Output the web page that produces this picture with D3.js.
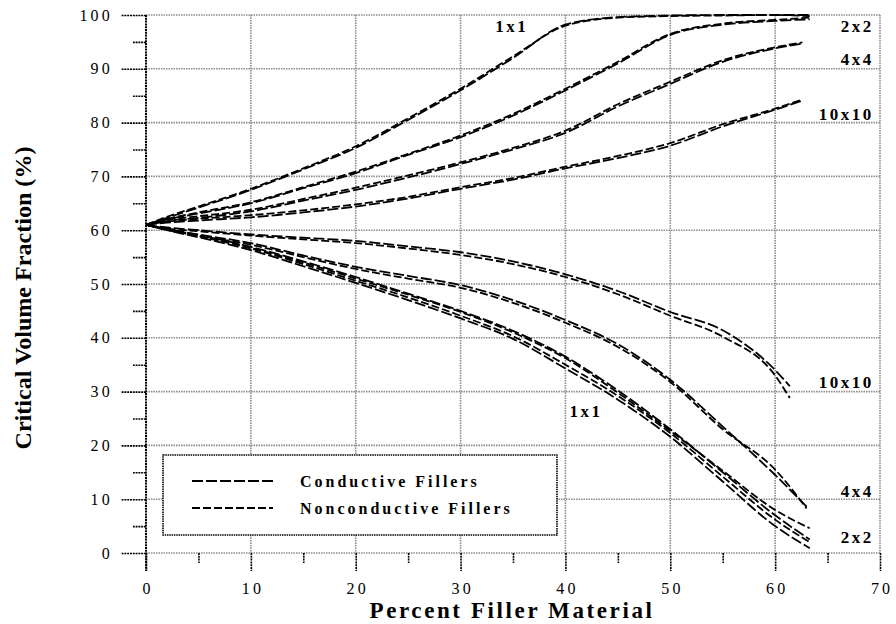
<!DOCTYPE html>
<html>
<head>
<meta charset="utf-8">
<script src="https://cdn.jsdelivr.net/npm/d3@7"></script>
<style>
  body { margin: 0; background: #fff; }
  text { font-family: "Liberation Serif", "Times New Roman", serif; fill: #000; }
</style>
</head>
<body>
<div id="chart"></div>
<script>
// percent filler grid (last point of each curve is at its own end value)
var pctGrid = [0, 2, 5, 10, 15, 20, 25, 30, 35, 40, 45, 50, 55, 60];

// curve names, end points, and values (conductive / nonconductive)
var curveNames = ["1x1", "2x2", "4x4", "10x10", "10x10", "4x4", "2x2", "1x1"];
var curveEnd = [63.3, 63.3, 62.6, 62.6, 61.4, 63, 63.3, 63.3];

var conductive = [
  [61, 62.3, 64.2, 67.5, 71.3, 75.3, 80.5, 86, 92, 98.2, 99.6, 99.9, 100, 100, 100],
  [61, 62, 63.1, 65, 67.8, 70.6, 74, 77.3, 81.3, 86, 91, 96.3, 98.2, 98.9, 99.2],
  [61, 61.7, 62.3, 63.5, 65.5, 67.5, 69.8, 72.3, 75, 78.1, 83, 87.2, 91.3, 93.8, 94.7],
  [61, 61.4, 61.8, 62.4, 63.3, 64.4, 65.9, 67.7, 69.4, 71.5, 73.4, 75.7, 79.3, 82.4, 84.1],
  [61, 60.5, 60, 59.2, 58.6, 58, 57, 55.9, 54.2, 51.8, 48.7, 44.8, 41.4, 34, 31],
  [61, 60.2, 59.2, 57.6, 55.3, 53.2, 51.5, 49.8, 47, 43.3, 38.8, 32.2, 23.5, 14.5, 8.6],
  [61, 60.2, 59.1, 56.9, 54.2, 51.3, 48.2, 45, 41.3, 36.5, 30.2, 23, 15, 7, 2.5],
  [61, 60, 58.7, 56.3, 53.3, 50.2, 47, 43.6, 39.8, 34.3, 28.5, 21.6, 13.3, 5, 0.9]
];
var nonconductive = [
  [61, 62.5, 64.4, 67.7, 71.5, 75.6, 80.8, 86.3, 92.3, 98, 99.5, 99.8, 99.9, 100, 99.8],
  [61, 62.1, 63.3, 65.2, 68, 70.9, 74.2, 77.6, 81.6, 86.3, 91.3, 96.5, 98.4, 99.1, 99.5],
  [61, 61.9, 62.6, 63.8, 65.8, 67.9, 70.2, 72.6, 75.3, 78.5, 83.4, 87.6, 91.6, 94, 94.9],
  [61, 61.6, 62.1, 62.8, 63.7, 64.8, 66.2, 68, 69.7, 71.8, 73.8, 76.2, 79.7, 82.6, 84.3],
  [61, 60.3, 59.8, 59, 58.3, 57.6, 56.6, 55.4, 53.7, 51.3, 48.1, 44.1, 40.2, 33, 28.8],
  [61, 60.1, 59, 57.3, 55, 52.8, 51, 49.3, 46.5, 42.8, 38.3, 31.8, 23, 15.5, 8.3],
  [61, 60.1, 59, 56.7, 54, 51, 48, 44.8, 41, 36.2, 29.8, 22.7, 15.3, 8, 4.6],
  [61, 60.1, 58.9, 56.6, 53.7, 50.6, 47.5, 44.1, 40.3, 35, 29.2, 22.3, 14.2, 6.2, 2]
];

// curve label positions (data coords)
var labelX = [33.3, 69.4, 69.4, 69.4, 69.4, 69.4, 69.4, 40.4];
var labelY = [96.8, 96.8, 90.7, 80.5, 30.7, 10.4, 1.9, 25.3];

var xMajor = [0, 10, 20, 30, 40, 50, 60, 70];
var xMinor = [5, 15, 25, 35, 45, 55, 65];
var yMajor = [0, 10, 20, 30, 40, 50, 60, 70, 80, 90, 100];
var yMinor = [5, 15, 25, 35, 45, 55, 65, 75, 85, 95];

var legendLabels = ["Conductive Fillers", "Nonconductive Fillers"];

var width = 896, height = 624;
var plotLeft = 146, plotRight = 880, plotTop = 15, plotBottom = 553;

var svg = d3.select("#chart")
  .append("svg")
    .attr("width", width)
    .attr("height", height);

var x = d3.scaleLinear().domain([0, 70]).range([plotLeft, plotRight]);
var y = d3.scaleLinear().domain([0, 100]).range([plotBottom, plotTop]);

// grid
svg.append("g")
  .selectAll("line")
  .data(xMajor.slice(1))
  .enter()
  .append("line")
    .attr("x1", d => x(d)).attr("x2", d => x(d))
    .attr("y1", plotTop).attr("y2", plotBottom)
    .attr("stroke", "#8c8c8c")
    .attr("stroke-width", 1.6)
    .attr("stroke-dasharray", "1.5,1");

svg.append("g")
  .selectAll("line")
  .data(yMajor)
  .enter()
  .append("line")
    .attr("x1", plotLeft).attr("x2", plotRight)
    .attr("y1", d => y(d)).attr("y2", d => y(d))
    .attr("stroke", "#8c8c8c")
    .attr("stroke-width", 1.6)
    .attr("stroke-dasharray", "1.5,1");

// y axis
var yAxis = svg.append("g")
  .attr("transform", "translate(" + plotLeft + ",0)")
  .call(d3.axisLeft(y).tickValues(yMajor).tickSize(25).tickPadding(8).tickSizeOuter(0));

svg.append("g")
  .attr("transform", "translate(" + plotLeft + ",0)")
  .call(d3.axisLeft(y).tickValues(yMinor).tickSize(13).tickFormat("").tickSizeOuter(0));

// x axis
var xAxis = svg.append("g")
  .attr("transform", "translate(0," + plotBottom + ")")
  .call(d3.axisBottom(x).tickValues(xMajor).tickSize(18).tickPadding(12).tickSizeOuter(0));

svg.append("g")
  .attr("transform", "translate(0," + plotBottom + ")")
  .call(d3.axisBottom(x).tickValues(xMinor).tickSize(10).tickFormat("").tickSizeOuter(0));

svg.selectAll(".domain").remove();
svg.selectAll(".tick line")
  .attr("stroke", "#000")
  .attr("stroke-width", 1.6)
  .attr("stroke-dasharray", "2,0.8");

svg.selectAll(".tick text")
  .attr("font-family", "Liberation Serif")
  .attr("font-size", 16)
  .attr("letter-spacing", 3.2);
xAxis.selectAll(".tick text").attr("dx", 1.6);

// left axis line
svg.append("line")
  .attr("x1", plotLeft).attr("x2", plotLeft)
  .attr("y1", y(100)).attr("y2", plotBottom + 18)
  .attr("stroke", "#000")
  .attr("stroke-width", 2)
  .attr("stroke-dasharray", "2,0.8");

// curves
var line = d3.line()
  .x(d => x(d[0]))
  .y(d => y(d[1]))
  .curve(d3.curveMonotoneX);

function pts(vals, end) {
  var xs = pctGrid.concat([end]);
  return vals.map((v, i) => [xs[i], v]);
}

var curves = svg.append("g");
curveNames.forEach(function(name, i){
  curves.append("path")
    .attr("d", line(pts(conductive[i], curveEnd[i])))
    .attr("fill", "none")
    .attr("stroke", "#000")
    .attr("stroke-width", 1.8)
    .attr("stroke-dasharray", "11,3");
  curves.append("path")
    .attr("d", line(pts(nonconductive[i], curveEnd[i])))
    .attr("fill", "none")
    .attr("stroke", "#000")
    .attr("stroke-width", 1.8)
    .attr("stroke-dasharray", "8,3");
});

// curve labels
svg.append("g")
  .selectAll("text")
  .data(curveNames)
  .enter()
  .append("text")
    .attr("x", (d, i) => x(labelX[i]))
    .attr("y", (d, i) => y(labelY[i]))
    .attr("text-anchor", (d, i) => labelX[i] > 65 ? "end" : "start")
    .attr("font-size", 17)
    .attr("font-weight", "bold")
    .attr("letter-spacing", 2.5)
    .text(d => d);

// legend
var legend = svg.append("g");
legend.append("rect")
  .attr("x", 163).attr("y", 455)
  .attr("width", 394).attr("height", 80)
  .attr("fill", "#fff")
  .attr("stroke", "#000")
  .attr("stroke-width", 1.6)
  .attr("stroke-dasharray", "1.5,0.8");

legend.selectAll(".lg")
  .data(legendLabels)
  .enter()
  .append("line")
    .attr("x1", 192).attr("x2", 273)
    .attr("y1", (d, i) => 481 + i * 27)
    .attr("y2", (d, i) => 481 + i * 27)
    .attr("stroke", "#000")
    .attr("stroke-width", 1.8)
    .attr("stroke-dasharray", (d, i) => i == 0 ? "11,3" : "8,3");

legend.selectAll(".lt")
  .data(legendLabels)
  .enter()
  .append("text")
    .attr("x", 300)
    .attr("y", (d, i) => 487 + i * 27)
    .attr("font-size", 16)
    .attr("font-weight", "bold")
    .attr("letter-spacing", 3)
    .text(d => d);

// axis titles
svg.append("text")
  .attr("x", 512)
  .attr("y", 618)
  .attr("text-anchor", "middle")
  .attr("font-size", 23)
  .attr("font-weight", "bold")
  .attr("letter-spacing", 2.6)
  .text("Percent Filler Material");

svg.append("text")
  .attr("transform", "translate(31,298)rotate(-90)")
  .attr("text-anchor", "middle")
  .attr("font-size", 24)
  .attr("font-weight", "bold")
  .attr("textLength", 303)
  .attr("lengthAdjust", "spacingAndGlyphs")
  .text("Critical Volume Fraction (%)");
</script>
</body>
</html>
